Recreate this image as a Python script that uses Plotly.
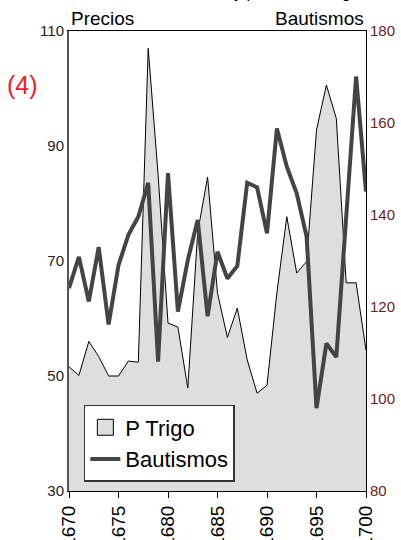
import plotly.graph_objects as go

years = list(range(1670, 1701))
p_trigo = [51.6, 50.1, 56.0, 53.4, 50.0, 50.0, 52.6, 52.4, 107.0, 85.0,
           59.2, 58.5, 47.9, 75.0, 84.6, 64.4, 56.7, 61.8, 52.8, 47.0,
           48.4, 64.5, 77.7, 67.9, 69.9, 92.8, 100.6, 94.8, 66.2, 66.2, 54.5]
bautismos = [124.1, 130.9, 121.2, 133.0, 116.2, 129.1, 135.7, 139.6, 147.0, 108.1,
             149.1, 119.0, 130.2, 138.9, 118.0, 132.0, 126.2, 128.9, 147.0, 146.0,
             136.0, 158.8, 150.5, 144.7, 135.3, 98.0, 112.1, 109.1, 139.6, 170.1, 145.1]

FONT = "Liberation Sans, Arial, sans-serif"

fig = go.Figure()
fig.add_trace(go.Scatter(
    x=years, y=p_trigo, name="P Trigo", mode="lines", showlegend=False,
    line=dict(color="black", width=1), fill="tozeroy", fillcolor="#dedede",
    yaxis="y"))
# legend entry for the area, drawn as an outlined box
fig.add_trace(go.Scatter(
    x=[None], y=[None], name="P Trigo", mode="markers",
    marker=dict(symbol="square", size=16, color="#dedede",
                line=dict(color="black", width=1)),
    yaxis="y"))
fig.add_trace(go.Scatter(
    x=years, y=bautismos, name="Bautismos", mode="lines",
    line=dict(color="#444444", width=4), yaxis="y2"))

fig.update_layout(
    width=401, height=540,
    margin=dict(l=69, r=35, t=31, b=49),
    paper_bgcolor="white", plot_bgcolor="white",
    font=dict(family=FONT, color="black"),
    showlegend=True,
    legend=dict(x=0.05, y=0.187, xanchor="left", yanchor="top",
                bgcolor="white", bordercolor="#333333", borderwidth=1.5,
                font=dict(size=22, family=FONT), tracegroupgap=0,
                itemwidth=30),
    xaxis=dict(range=[1670, 1700], tickvals=list(range(1670, 1701, 5)),
               tickangle=-90, ticks="outside", ticklen=6, tickcolor="black",
               tickfont=dict(size=19), showgrid=False, zeroline=False,
               showline=True, linecolor="black", linewidth=1, mirror=True,
               automargin=False),
    yaxis=dict(range=[30, 110], tickvals=[30, 50, 70, 90, 110],
               tickfont=dict(size=15, color="#222222"), showgrid=False,
               zeroline=False, showline=True, linecolor="#555555", linewidth=2,
               mirror=False, ticks="", automargin=False),
    yaxis2=dict(range=[80, 180], tickvals=[80, 100, 120, 140, 160, 180],
                overlaying="y", side="right",
                tickfont=dict(size=15, color="#6b1c1c"), showgrid=False,
                zeroline=False, showline=True, linecolor="black", linewidth=1,
                ticks="", automargin=False),
    annotations=[
        dict(text="Precios", xref="paper", yref="paper", x=0.0, y=1.0,
             xanchor="left", yanchor="bottom", showarrow=False,
             font=dict(size=19, family=FONT, color="black"), yshift=0),
        dict(text="Bautismos", xref="paper", yref="paper", x=1.0, y=1.0,
             xanchor="right", yanchor="bottom", showarrow=False,
             font=dict(size=19, family=FONT, color="black"), yshift=0),
        dict(text="Bautismos y precios del trigo", xref="paper", yref="paper",
             x=0.636, y=1.0, xanchor="center", yanchor="bottom", showarrow=False,
             font=dict(size=16, family=FONT, color="black"), yshift=28),
        dict(text="(4)", xref="paper", yref="paper", x=-0.158, y=0.8826,
             xanchor="center", yanchor="middle", showarrow=False,
             font=dict(size=25, family=FONT, color="#ee1c24")),
    ],
)

fig.write_html("out.html", config={"displayModeBar": False},
               post_script="document.body.style.margin='0px';")
